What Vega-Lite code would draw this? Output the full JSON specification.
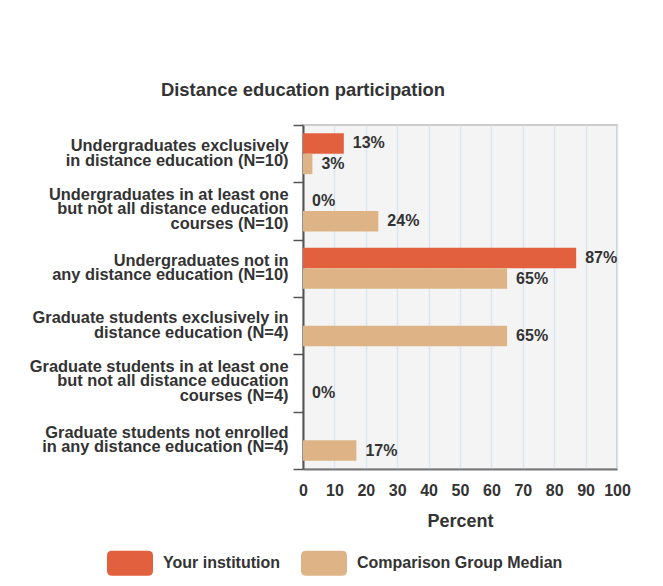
{
  "$schema": "https://vega.github.io/schema/vega-lite/v6.json",
  "width": 314,
  "height": 344,
  "autosize": "none",
  "padding": {"left": 303, "top": 125, "right": 46, "bottom": 117},
  "background": "white",
  "title": {
    "text": "Distance education participation",
    "anchor": "middle",
    "dx": -157,
    "offset": 18,
    "fontSize": 18.4,
    "font": "Liberation Sans",
    "fontWeight": "bold",
    "color": "#333333"
  },
  "data": {
    "values": [
      {"category": "Undergraduates exclusively|in distance education (N=10)", "group": "Your institution", "value": 0.13},
      {"category": "Undergraduates exclusively|in distance education (N=10)", "group": "Comparison Group Median", "value": 0.03},
      {"category": "Undergraduates in at least one|but not all distance education|courses (N=10)", "group": "Your institution", "value": 0},
      {"category": "Undergraduates in at least one|but not all distance education|courses (N=10)", "group": "Comparison Group Median", "value": 0.24},
      {"category": "Undergraduates not in|any distance education (N=10)", "group": "Your institution", "value": 0.87},
      {"category": "Undergraduates not in|any distance education (N=10)", "group": "Comparison Group Median", "value": 0.65},
      {"category": "Graduate students exclusively in|distance education (N=4)", "group": "Comparison Group Median", "value": 0.65},
      {"category": "Graduate students in at least one|but not all distance education|courses (N=4)", "group": "Comparison Group Median", "value": 0},
      {"category": "Graduate students not enrolled|in any distance education (N=4)", "group": "Comparison Group Median", "value": 0.17}
    ]
  },
  "encoding": {
    "y": {
      "field": "category",
      "type": "nominal",
      "sort": [
        "Undergraduates exclusively|in distance education (N=10)",
        "Undergraduates in at least one|but not all distance education|courses (N=10)",
        "Undergraduates not in|any distance education (N=10)",
        "Graduate students exclusively in|distance education (N=4)",
        "Graduate students in at least one|but not all distance education|courses (N=4)",
        "Graduate students not enrolled|in any distance education (N=4)"
      ],
      "scale": {"paddingInner": 0, "paddingOuter": 0},
      "axis": {
        "title": null,
        "tickBand": "extent",
        "ticks": true,
        "tickSize": 10,
        "tickColor": "#555555",
        "tickWidth": 1.5,
        "domainColor": "#555555",
        "domainWidth": 2,
        "grid": false,
        "labelExpr": "split(datum.label, '|')",
        "labelOffset": {"condition": {"test": "length(split(datum.label, '|')) == 3", "value": -17}, "value": -8},
        "labelFont": "Liberation Sans",
        "labelFontSize": 16.4,
        "labelFontWeight": "bold",
        "labelColor": "#333333",
        "labelLineHeight": 14.5,
        "labelPadding": 5,
        "labelLimit": 400
      }
    },
    "yOffset": {
      "field": "group",
      "type": "nominal",
      "scale": {"domain": ["Your institution", "Comparison Group Median"], "paddingOuter": 0.4, "paddingInner": 0}
    },
    "x": {
      "field": "value",
      "type": "quantitative",
      "scale": {"domain": [0, 1]},
      "axis": {
        "values": [0, 0.1, 0.2, 0.3, 0.4, 0.5, 0.6, 0.7, 0.8, 0.9, 1],
        "labelExpr": "round(datum.value * 100)",
        "grid": true,
        "gridColor": "#d9e5f1",
        "gridWidth": 1.5,
        "ticks": false,
        "domainColor": "#777777",
        "domainWidth": 2,
        "labelFont": "Liberation Sans",
        "labelFontSize": 16,
        "labelFontWeight": "bold",
        "labelColor": "#333333",
        "labelPadding": 13,
        "labelFlush": false,
        "title": "Percent",
        "titleFont": "Liberation Sans",
        "titleFontSize": 18,
        "titleFontWeight": "bold",
        "titleColor": "#333333",
        "titlePadding": 14
      }
    }
  },
  "layer": [
    {
      "mark": {"type": "bar"},
      "encoding": {
        "color": {
          "field": "group",
          "type": "nominal",
          "scale": {"domain": ["Your institution", "Comparison Group Median"], "range": ["#e2603e", "#deb487"]},
          "legend": {
            "orient": "none",
            "legendX": -196,
            "legendY": 415,
            "direction": "horizontal",
            "title": null,
            "symbolType": "M-0.78,-0.54 L0.78,-0.54 Q1,-0.54 1,-0.32 L1,0.32 Q1,0.54 0.78,0.54 L-0.78,0.54 Q-1,0.54 -1,0.32 L-1,-0.32 Q-1,-0.54 -0.78,-0.54 Z",
            "symbolSize": 2116,
            "symbolStrokeWidth": 0,
            "symbolOpacity": 1,
            "labelFont": "Liberation Sans",
            "labelFontSize": 16,
            "labelFontWeight": "bold",
            "labelColor": "#333333",
            "labelOffset": 10,
            "labelLimit": 400,
            "columnPadding": 20,
            "padding": 0
          }
        }
      }
    },
    {
      "mark": {"type": "text", "align": "left", "baseline": "middle", "dx": 9, "font": "Liberation Sans", "fontSize": 16, "fontWeight": "bold", "color": "#333333"},
      "encoding": {
        "text": {"field": "value", "type": "quantitative", "format": ".0%"}
      }
    }
  ],
  "config": {
    "view": {"fill": "#f4f4f4", "stroke": "#cccccc", "strokeWidth": 2}
  }
}
